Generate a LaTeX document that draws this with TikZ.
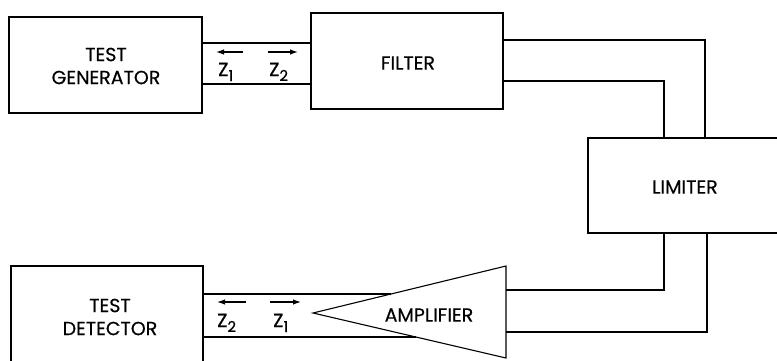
\documentclass[tikz,border=0pt]{standalone}
\usepackage{fontspec}
\setmainfont{Poppins}[FakeBold=0.4]
\usetikzlibrary{arrows.meta,calc}
\newcommand{\zlab}[1]{Z\raisebox{-5pt}{\fontsize{15}{15}\selectfont #1}}
\begin{document}
\begin{tikzpicture}[x=1pt,y=-1pt,
  blk/.style={draw,line width=1.1pt,inner sep=0pt},
  txt/.style={align=center,inner sep=0pt,font=\fontsize{19}{23}\selectfont},
  wire/.style={line width=1.1pt},
  arr/.style={line width=1.2pt,-{Latex[length=8pt,width=5.5pt]}},
  zl/.style={inner sep=0pt,anchor=base west,font=\fontsize{19}{20}\selectfont}]
\useasboundingbox (0,0) rectangle (777,360);
\clip (0,0) rectangle (777,360);
% blocks
\node[blk,minimum width=193pt,minimum height=96pt] (gen) at (105.5,65) {};
\node[txt] (gent) at (106,66) {TEST\\GENERATOR};
\node[blk,minimum width=192pt,minimum height=96pt] (filter) at (407,61) {};
\node[txt] (filtert) at (408,63) {FILTER};
\node[blk,minimum width=194pt,minimum height=95pt] (limiter) at (685,185.5) {};
\node[txt] (limitert) at (685,187) {LIMITER};
\node[blk,minimum width=192pt,minimum height=100pt] (det) at (107,316) {};
\node[txt] (dett) at (110,317) {TEST\\DETECTOR};
% amplifier
\coordinate (ampTip) at (313,313);
\coordinate (ampTop) at (506,266);
\coordinate (ampBot) at (506,358);
\draw[line width=1.1pt] (ampTip) -- (ampTop) -- (ampBot) -- cycle;
\node[txt] (amp) at (429,315) {AMPLIFIER};
% wire levels
\coordinate (w1) at (0,43);
\coordinate (w2) at (0,84);
\coordinate (ft) at (705,40);
\coordinate (fb) at (664,81);
\coordinate (lt) at (664,290);
\coordinate (lb) at (707,332);
\coordinate (d1) at ($(ampTip)!{19/47}!(ampTop)$);
\coordinate (d2) at ($(ampTip)!{24/45}!(ampBot)$);
% connectors
\draw[wire] (gen.east |- w1) -- (filter.west |- w1);
\draw[wire] (gen.east |- w2) -- (filter.west |- w2);
\draw[wire] (filter.east |- ft) -| (limiter.north -| ft);
\draw[wire] (filter.east |- fb) -| (limiter.north -| fb);
\draw[wire] (limiter.south -| lt) |- (ampTop |- lt);
\draw[wire] (limiter.south -| lb) |- (ampTop |- lb);
\draw[wire] (det.east |- d1) -- (d1);
\draw[wire] (det.east |- d2) -- (d2);
% impedance arrows and labels
\draw[arr] (243,52) -- (216,52);
\draw[arr] (268,52) -- (298,52);
\node[zl] (z1t) at (218,76) {\zlab{1}};
\node[zl] (z2t) at (269,76) {\zlab{2}};
\draw[arr] (246,302) -- (217,302);
\draw[arr] (270,302) -- (301,302);
\node[zl] (z2b) at (217,327) {\zlab{2}};
\node[zl] (z1b) at (273,327) {\zlab{1}};
\end{tikzpicture}
\end{document}
